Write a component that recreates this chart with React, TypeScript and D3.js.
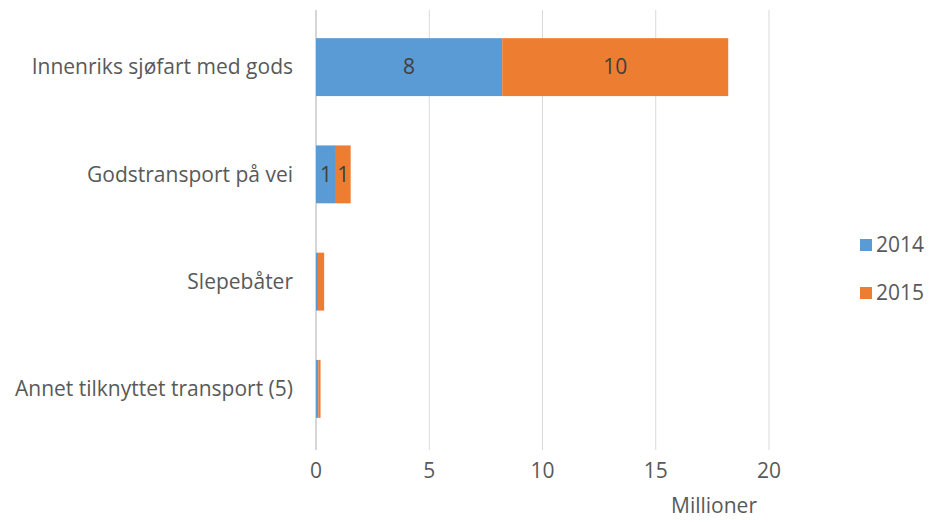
import React from "react";
import * as d3 from "d3";

const categories = [
  "Innenriks sjøfart med gods",
  "Godstransport på vei",
  "Slepebåter",
  "Annet tilknyttet transport (5)",
];
const series2014 = [8.22, 0.88, 0.09, 0.1];
const series2015 = [9.98, 0.65, 0.27, 0.1];
const seriesNames = ["2014", "2015"];
const xTicks = [0, 5, 10, 15, 20];
const colors = ["#5B9BD5", "#ED7D31"];

export default function App() {
  const W = 931, H = 522;
  const left = 316, right = 769;
  const x = d3.scaleLinear().domain([0, 20]).range([left, right]);
  const y = d3.scaleBand().domain(categories).range([13.5, 442.5]).paddingInner(0.46).paddingOuter(0.23);
  const font = "'Open Sans', sans-serif";
  const fs = 21;
  const rows = categories.map((c, i) => ({ c, v: [series2014[i], series2015[i]] }));
  return (
    <svg width={W} height={H} style={{ position: "absolute", left: 0, top: 0, background: "#fff" }} fontFamily={font}>
      {xTicks.map((t) => (
        <line key={t} x1={x(t)} x2={x(t)} y1={10} y2={450} stroke={t === 0 ? "#c8c8c8" : "#d9d9d9"} strokeWidth={t === 0 ? 1.5 : 1} />
      ))}
      {rows.map((r) => {
        let acc = 0;
        return (
          <g key={r.c}>
            {r.v.map((v, j) => {
              const x0 = x(acc);
              acc += v;
              const x1 = x(acc);
              const showLabel = v >= 0.5;
              return (
                <g key={j}>
                  <rect x={x0} y={y(r.c)!} width={x1 - x0} height={y.bandwidth()} fill={colors[j]} />
                  {showLabel && (
                    <text x={(x0 + x1) / 2} y={y(r.c)! + y.bandwidth() / 2} dy="0.35em" textAnchor="middle" fontSize={fs} fill="#404040">
                      {Math.round(v)}
                    </text>
                  )}
                </g>
              );
            })}
            <text x={293} y={y(r.c)! + y.bandwidth() / 2} dy="0.35em" textAnchor="end" fontSize={fs} fill="#595959">
              {r.c}
            </text>
          </g>
        );
      })}
      {xTicks.map((t) => (
        <text key={"l" + t} x={x(t)} y={471} dy="0.35em" textAnchor="middle" fontSize={fs} fill="#595959">
          {t}
        </text>
      ))}
      <text x={714} y={513} textAnchor="middle" fontSize={fs} fill="#595959">Millioner</text>
      {seriesNames.map((s, i) => (
        <g key={s}>
          <rect x={860} y={239 + i * 48} width={12} height={12} fill={colors[i]} />
          <text x={876} y={245 + i * 48} dy="0.35em" fontSize={fs} fill="#595959">{s}</text>
        </g>
      ))}
    </svg>
  );
}
